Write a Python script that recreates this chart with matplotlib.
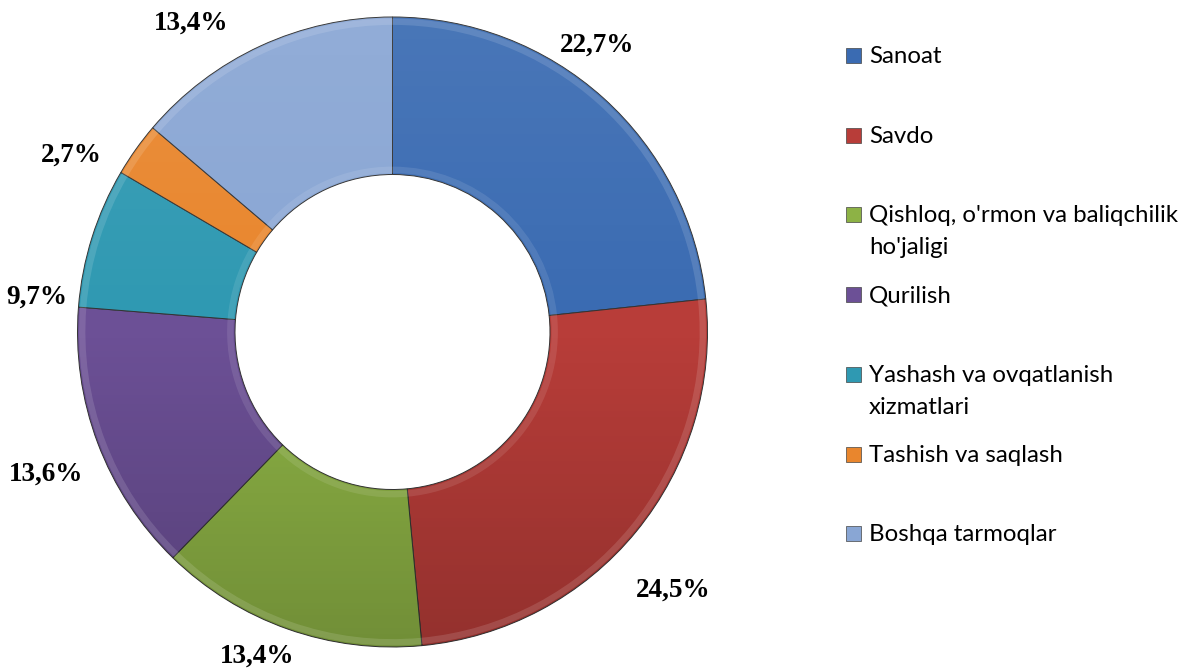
import numpy as np
import matplotlib
matplotlib.use("Agg")
import matplotlib.pyplot as plt
from matplotlib.patches import Rectangle, Wedge

# data
sectors = ["Sanoat", "Savdo", "Qishloq, o'rmon va baliqchilik\nho'jaligi", "Qurilish",
           "Yashash va ovqatlanish\nxizmatlari", "Tashish va saqlash", "Boshqa tarmoqlar"]
# segment sizes as drawn in the ring
values = [22.7, 24.5, 13.4, 13.6, 7.0, 2.7, 13.4]
# percent labels as printed on the chart
labels = ["22,7%", "24,5%", "13,4%", "13,6%", "9,7%", "2,7%", "13,4%"]
colors = ["#3a6bb2", "#b83d39", "#8db245", "#6c5096", "#2f99b2", "#e9862d", "#89a6d4"]

# label positions around the ring, in units of the outer radius
label_xy = [(0.65, 0.91), (0.89, -0.82), (-0.43, -1.03), (-1.10, -0.45),
            (-1.13, 0.11), (-1.02, 0.56), (-0.64, 0.98)]

W, H = 1191, 668
cx, cy, R = 392.5, 332, 315.0


def main():
    fig = plt.figure(figsize=(W / 100, H / 100), dpi=100)
    ax = fig.add_axes([0, 0, 1, 1])

    wedges, _ = ax.pie(values, colors=colors, startangle=90, counterclock=False,
                       radius=1, wedgeprops=dict(width=0.5, edgecolor="#333333",
                                                 linewidth=0.7))

    # soft top-light / bottom-dark shading, clipped to each wedge
    t = np.linspace(0, 1, 200)
    grad = np.zeros((200, 2, 4))
    grad[:, :, :3] = np.where(t < 0.5, 1.0, 0.0)[:, None, None]
    grad[:, :, 3] = (np.abs(t - 0.5) * np.where(t < 0.5, 0.16, 0.40))[:, None]
    for w in wedges:
        im = ax.imshow(grad, extent=(-1, 1, -1, 1), aspect="auto",
                       zorder=w.get_zorder() + 0.1)
        im.set_clip_path(w)
        # faint bevel highlights along the outer and inner edges
        ax.add_patch(Wedge((0, 0), 0.995, w.theta1, w.theta2, width=0.02,
                           facecolor="white", alpha=0.13, edgecolor="none",
                           zorder=w.get_zorder() + 0.2))
        ax.add_patch(Wedge((0, 0), 0.525, w.theta1, w.theta2, width=0.02,
                           facecolor="white", alpha=0.10, edgecolor="none",
                           zorder=w.get_zorder() + 0.2))

    for txt, (lx, ly) in zip(labels, label_xy):
        ax.text(lx, ly, txt, ha="center", va="center",
                fontsize=19.5, fontweight="bold", family="Liberation Serif", color="black")

    ax.set_xlim(-cx / R, (W - cx) / R)
    ax.set_ylim(-(H - cy) / R, cy / R)
    ax.set_aspect("auto")
    ax.axis("off")

    # legend drawn by hand to keep Excel spacing
    y0, step = 55, 79.7
    for i, (name, c) in enumerate(zip(sectors, colors)):
        yc = y0 + i * step
        fig.patches.append(Rectangle((846 / W, 1 - (yc + 8) / H), 15 / W, 15 / H,
                                     transform=fig.transFigure, facecolor=c,
                                     edgecolor="#444444", linewidth=0.5))
        for j, line in enumerate(name.split("\n")):
            fig.text(869 / W, 1 - (yc + 8 + j * 32) / H, line, ha="left", va="baseline",
                     fontsize=17.3, family="Lato", color="black")

    fig.savefig("out.png", dpi=100)
    plt.close(fig)


if __name__ == "__main__":
    main()
